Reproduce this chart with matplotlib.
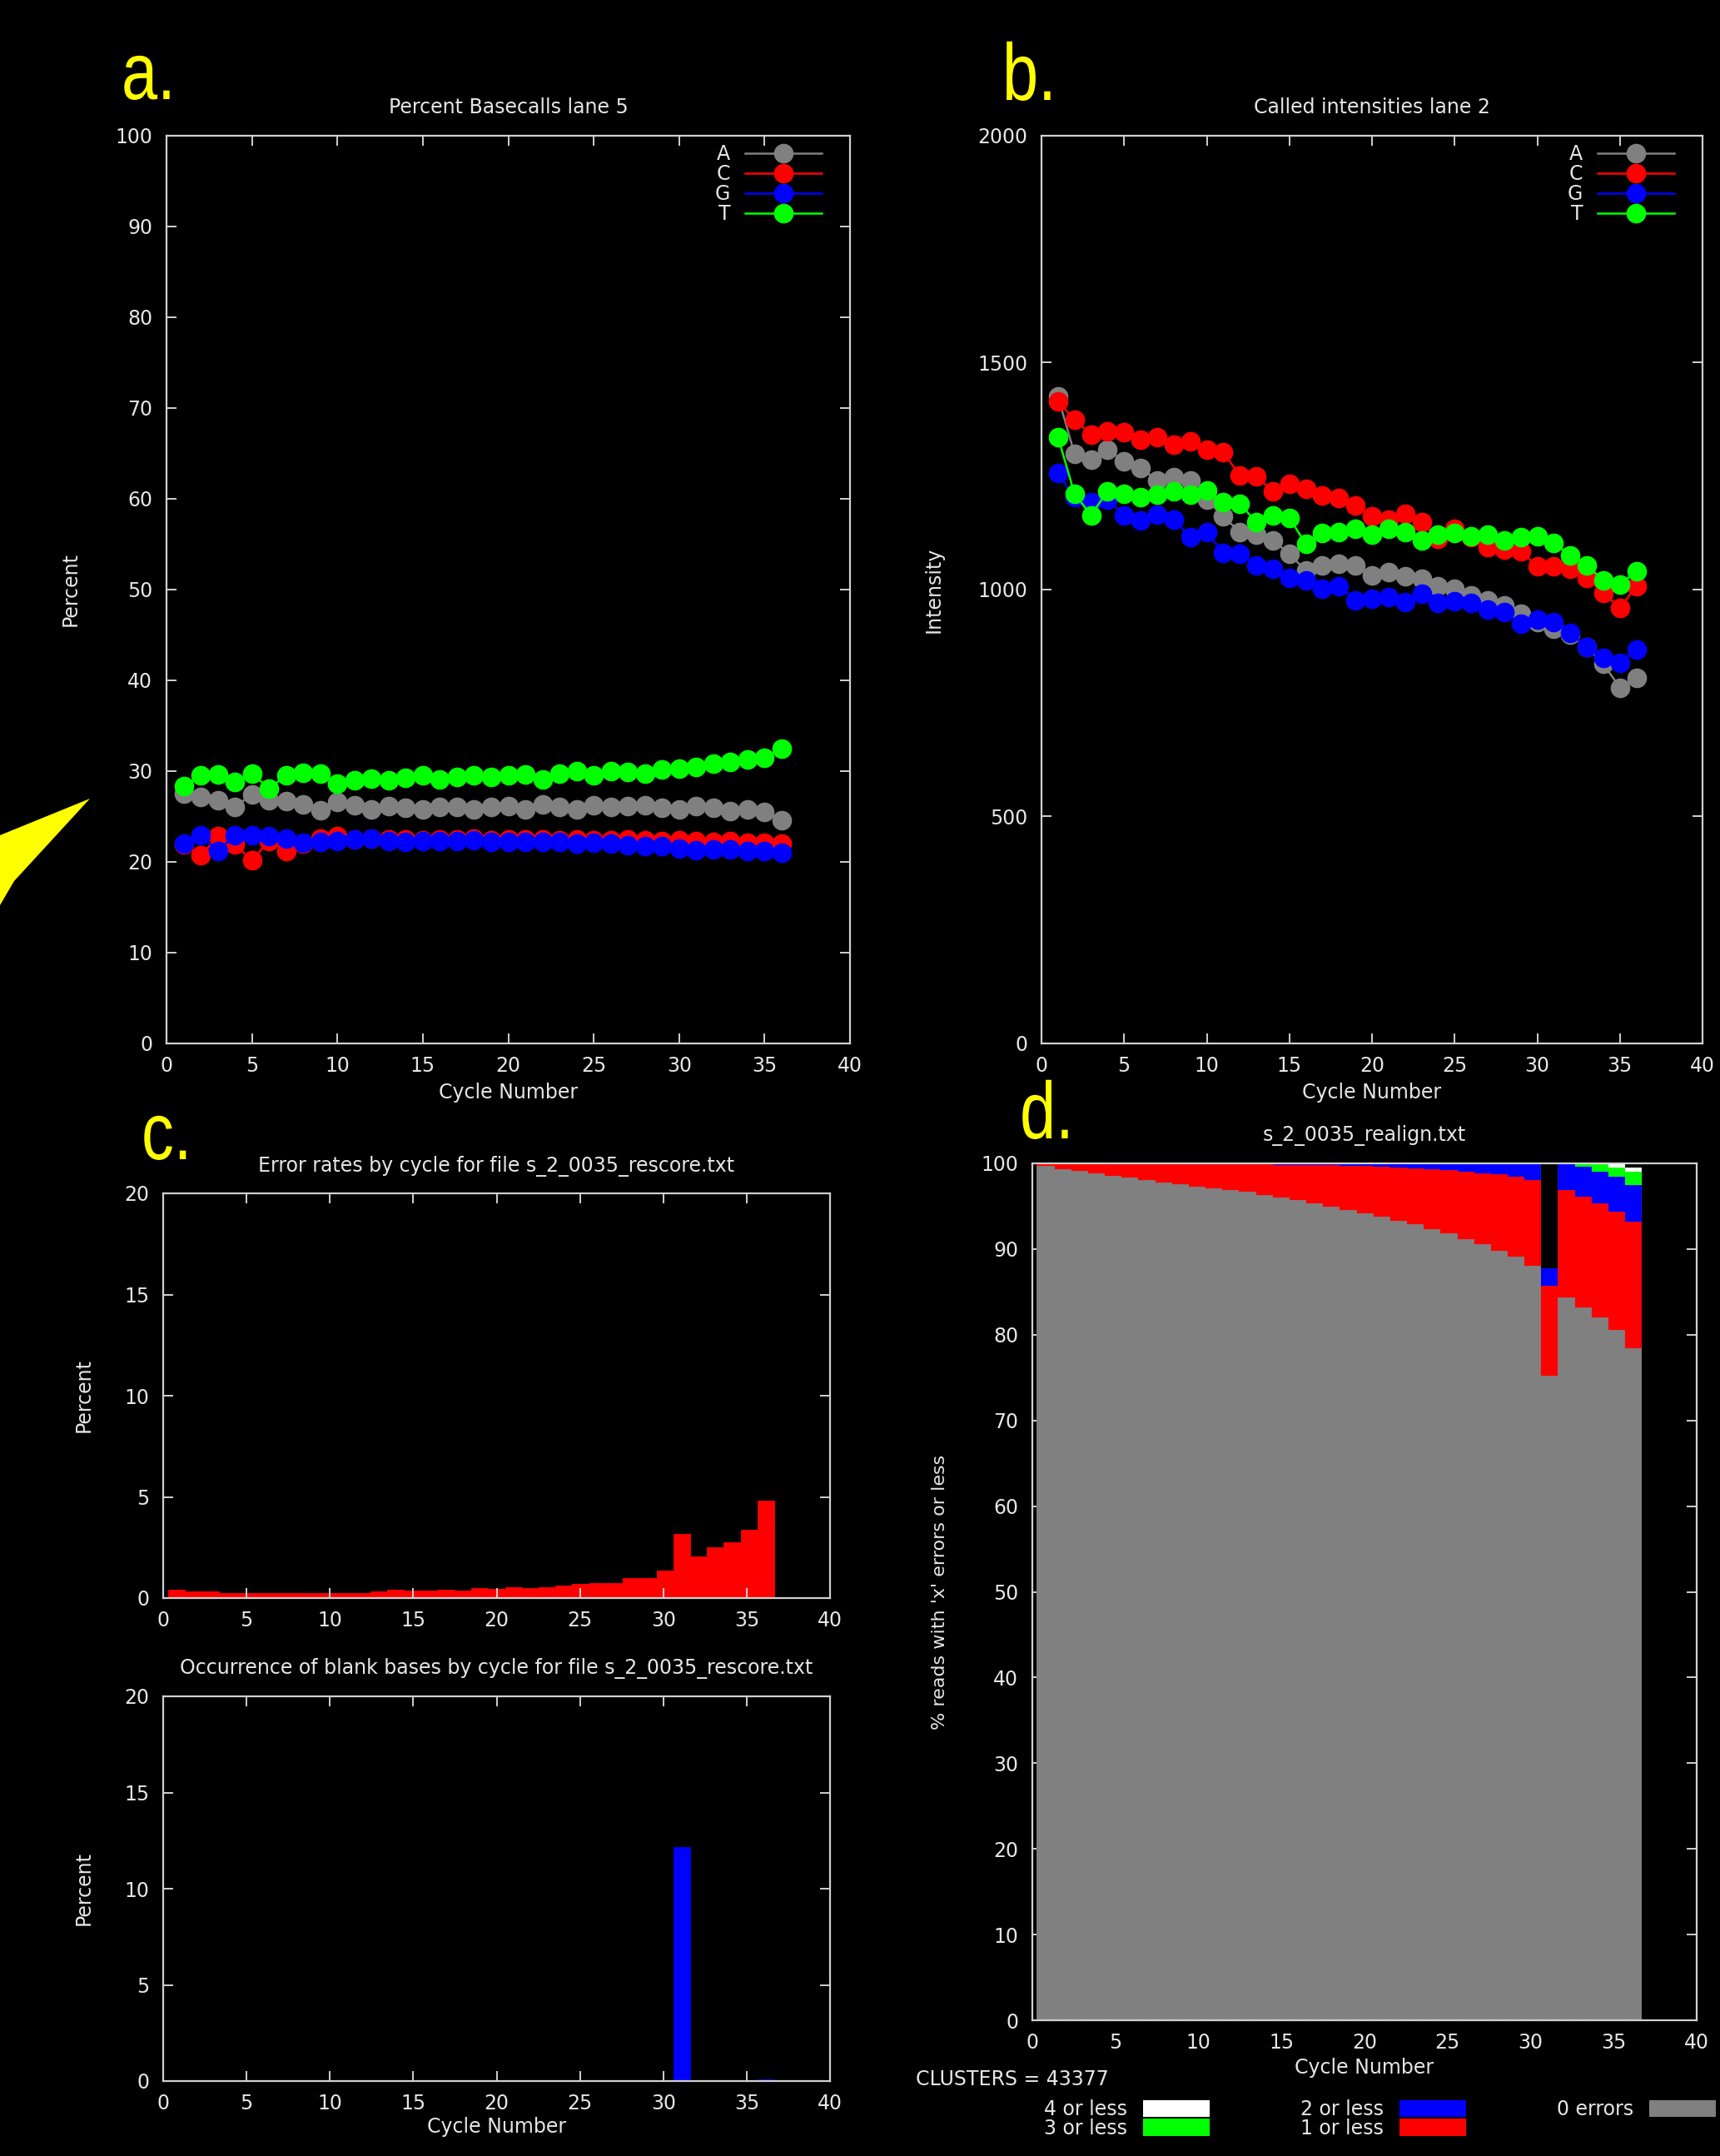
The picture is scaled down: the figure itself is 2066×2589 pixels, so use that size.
import numpy as np
import matplotlib
matplotlib.use("Agg")
import matplotlib.pyplot as plt
from matplotlib.patches import Patch, Polygon, PathPatch
from matplotlib.textpath import TextPath
from matplotlib.font_manager import FontProperties
from matplotlib.transforms import Affine2D

# ---- data ----
cycles = np.arange(1, 37)
BASES = ["A", "C", "G", "T"]
BASE_COLORS = ["#808080", "#ff0000", "#0000ff", "#00ff00"]

# a. Percent Basecalls lane 5
pct_A = [27.5, 27.2, 26.8, 26.1, 27.4, 26.8, 26.7, 26.3, 25.7, 26.6, 26.2, 25.75,
         26.15, 26.0, 25.8, 26.05, 26.05, 25.75, 26.05, 26.15, 25.8, 26.3, 26.05, 25.8,
         26.2, 26.05, 26.15, 26.25, 26.0, 25.75, 26.15, 26.0, 25.6, 25.75, 25.5, 24.6]
pct_C = [21.9, 20.7, 22.8, 21.9, 20.2, 22.3, 21.2, 22.0, 22.6, 22.8, 22.5, 22.6,
         22.5, 22.5, 22.4, 22.5, 22.5, 22.6, 22.4, 22.5, 22.5, 22.5, 22.4, 22.5,
         22.4, 22.4, 22.5, 22.4, 22.3, 22.4, 22.3, 22.2, 22.3, 22.1, 22.1, 22.0]
pct_G = [22.0, 22.9, 21.2, 22.9, 22.9, 22.8, 22.6, 22.1, 22.2, 22.3, 22.5, 22.6,
         22.3, 22.2, 22.3, 22.3, 22.3, 22.4, 22.2, 22.2, 22.2, 22.2, 22.2, 22.0,
         22.1, 22.0, 21.8, 21.7, 21.7, 21.5, 21.3, 21.4, 21.4, 21.2, 21.2, 21.0]
pct_T = [28.35, 29.5, 29.6, 28.8, 29.7, 28.1, 29.5, 29.8, 29.7, 28.65, 29.0, 29.2,
         29.0, 29.3, 29.5, 29.1, 29.4, 29.5, 29.4, 29.5, 29.6, 29.1, 29.7, 30.0,
         29.5, 30.0, 29.9, 29.7, 30.2, 30.3, 30.5, 30.8, 31.0, 31.25, 31.5, 32.5]

# b. Called intensities lane 2
int_A = [1425, 1299, 1287, 1308, 1282, 1268, 1241, 1247, 1241, 1198, 1161, 1127,
         1121, 1109, 1078, 1042, 1054, 1057, 1054, 1032, 1039, 1029, 1023, 1008,
         1002, 987, 977, 965, 947, 928, 913, 901, 873, 836, 784, 806]
int_C = [1415, 1374, 1342, 1348, 1346, 1330, 1336, 1320, 1327, 1308, 1302, 1252,
         1250, 1216, 1233, 1222, 1207, 1201, 1186, 1161, 1154, 1167, 1149, 1112,
         1134, 1115, 1094, 1088, 1085, 1051, 1051, 1045, 1026, 993, 959, 1008]
int_G = [1256, 1203, 1193, 1198, 1164, 1152, 1166, 1155, 1115, 1126, 1081, 1078,
         1054, 1045, 1026, 1020, 1001, 1008, 977, 980, 983, 972, 990, 971,
         974, 971, 956, 950, 925, 934, 928, 904, 873, 849, 839, 868]
int_T = [1336, 1211, 1164, 1217, 1211, 1204, 1210, 1216, 1210, 1219, 1192, 1189,
         1149, 1164, 1158, 1100, 1124, 1127, 1134, 1121, 1134, 1127, 1109, 1121,
         1124, 1118, 1121, 1109, 1115, 1118, 1103, 1075, 1054, 1020, 1011, 1040]

# c. error rates and blank bases (percent)
err_rate = [0.41, 0.32, 0.32, 0.25, 0.25, 0.25, 0.25, 0.25, 0.25, 0.25, 0.25, 0.25,
            0.32, 0.41, 0.38, 0.38, 0.41, 0.38, 0.48, 0.45, 0.55, 0.48, 0.55, 0.63,
            0.68, 0.75, 0.75, 0.97, 0.97, 1.37, 3.15, 2.07, 2.53, 2.74, 3.36, 4.81]
blank_rate = [0, 0, 0, 0, 0, 0, 0, 0, 0, 0, 0, 0,
              0, 0, 0, 0, 0, 0, 0, 0.03, 0.03, 0.03, 0.03, 0.03,
              0.03, 0.03, 0.03, 0.03, 0.03, 0.03, 12.15, 0.03, 0, 0, 0, 0.1]

# d. % reads with 'x' errors or less (cumulative)
le0 = [99.67, 99.35, 99.1, 98.8, 98.5, 98.3, 98.05, 97.8, 97.55, 97.3, 97.1, 96.9,
       96.65, 96.3, 96.0, 95.7, 95.35, 94.95, 94.55, 94.15, 93.75, 93.3, 92.9, 92.35,
       91.8, 91.2, 90.6, 89.8, 89.1, 88.05, 75.2, 84.4, 83.2, 82.0, 80.6, 78.4]
le1 = [99.97, 99.97, 99.96, 99.96, 99.95, 99.95, 99.94, 99.93, 99.92, 99.91, 99.9, 99.89,
       99.88, 99.86, 99.85, 99.82, 99.8, 99.76, 99.72, 99.67, 99.62, 99.52, 99.42, 99.32,
       99.2, 99.02, 98.86, 98.7, 98.4, 98.05, 85.7, 96.9, 96.15, 95.35, 94.4, 93.2]
le2 = [99.99, 99.99, 99.99, 99.99, 99.99, 99.99, 99.99, 99.99, 99.99, 99.99, 99.99, 99.99,
       99.99, 99.99, 99.99, 99.99, 99.99, 99.99, 99.98, 99.98, 99.98, 99.98, 99.98, 99.98,
       99.98, 99.97, 99.97, 99.97, 99.97, 99.97, 87.8, 99.97, 99.64, 99.0, 98.4, 97.5]
le3 = [99.99, 99.99, 99.99, 99.99, 99.99, 99.99, 99.99, 99.99, 99.99, 99.99, 99.99, 99.99,
       99.99, 99.99, 99.99, 99.99, 99.99, 99.99, 99.98, 99.98, 99.98, 99.98, 99.98, 99.98,
       99.98, 99.97, 99.97, 99.97, 99.97, 99.97, 87.8, 99.98, 99.97, 99.9, 99.54, 99.0]
le4 = [99.99, 99.99, 99.99, 99.99, 99.99, 99.99, 99.99, 99.99, 99.99, 99.99, 99.99, 99.99,
       99.99, 99.99, 99.99, 99.99, 99.99, 99.99, 99.98, 99.98, 99.98, 99.98, 99.98, 99.98,
       99.98, 99.97, 99.97, 99.97, 99.97, 99.97, 87.8, 99.99, 99.98, 99.99, 99.97, 99.54]
D_LABELS = ["4 or less", "3 or less", "2 or less", "1 or less", "0 errors"]
D_COLORS = ["#ffffff", "#00ff00", "#0000ff", "#ff0000", "#808080"]
N_CLUSTERS = 43377

# ---- layout ----
W, H = 2066.0, 2589.0
FG = "#e6e6e6"
SP = "#d0d0d0"
FS = 17
plt.rcParams["font.family"] = ["DejaVu Sans"]

fig = plt.figure(figsize=(W / 100, H / 100), dpi=100, facecolor="black")


def box(l, t, r, b):
    return [l / W, 1 - b / H, (r - l) / W, (b - t) / H]


def style(ax, ymax, ystep):
    ax.set_facecolor("black")
    ax.set_xlim(0, 40)
    ax.set_ylim(0, ymax)
    ax.set_xticks(range(0, 41, 5))
    ax.set_yticks(np.arange(0, ymax + 1, ystep))
    for s in ax.spines.values():
        s.set_color(SP)
        s.set_linewidth(1.6)
    ax.tick_params(direction="in", length=8.5, width=1.4, color=SP, labelcolor=FG,
                   labelsize=FS, top=True, right=True)
    ax.tick_params(axis="x", pad=11)
    ax.tick_params(axis="y", pad=12)


def title(ax, text, y):
    ax.set_title(text, color=FG, fontsize=FS, y=y, pad=0)


ax_a = fig.add_axes(box(200, 163, 1021, 1253))
ax_b = fig.add_axes(box(1251, 163, 2045, 1253))
ax_c1 = fig.add_axes(box(196, 1433, 997, 1919))
ax_c2 = fig.add_axes(box(196, 2037, 997, 2499))
ax_d = fig.add_axes(box(1240, 1397, 2038, 2426))

# a / b: line + point charts
for ax, series, ymax, ystep, ttl, ylab, ylx in [
        (ax_a, [pct_A, pct_C, pct_G, pct_T], 100, 10, "Percent Basecalls lane 5", "Percent", -0.126),
        (ax_b, [int_A, int_C, int_G, int_T], 2000, 500, "Called intensities lane 2", "Intensity", -0.148)]:
    style(ax, ymax, ystep)
    for vals, col, lab in zip(series, BASE_COLORS, BASES):
        ax.plot(cycles, vals, color=col, lw=1.8, marker="o", ms=16, mec=col, label=lab)
    title(ax, ttl, 1.0252)
    ax.set_xlabel("Cycle Number", color=FG, fontsize=FS)
    ax.xaxis.set_label_coords(0.5, -0.0427)
    ax.set_ylabel(ylab, color=FG, fontsize=FS)
    ax.yaxis.set_label_coords(ylx, 0.5)
    w = ax.get_position().width * W
    ax.legend(loc="upper right", bbox_to_anchor=(1 - 34 / w, 1 - 10 / 1090), frameon=False,
              markerfirst=False, numpoints=1, handlelength=3.9, handletextpad=0.75,
              labelspacing=0.0, borderpad=0, borderaxespad=0, fontsize=FS, labelcolor=FG)

# c: error rates and blank bases as boxes
pos_c = 0.3 + 1.01 * (cycles - 0.5)
style(ax_c1, 20, 5)
ax_c1.bar(pos_c, err_rate, width=1.01, color="#ff0000", edgecolor="#ff0000", linewidth=0.6)
title(ax_c1, "Error rates by cycle for file s_2_0035_rescore.txt", 1.0525)
ax_c1.set_ylabel("Percent", color=FG, fontsize=FS)
ax_c1.yaxis.set_label_coords(-0.104, 0.5)

style(ax_c2, 20, 5)
ax_c2.bar(pos_c, blank_rate, width=1.01, color="#0000ff", edgecolor="#0000ff", linewidth=0.6)
title(ax_c2, "Occurrence of blank bases by cycle for file s_2_0035_rescore.txt", 1.0574)
ax_c2.set_ylabel("Percent", color=FG, fontsize=FS)
ax_c2.yaxis.set_label_coords(-0.104, 0.5)
ax_c2.set_xlabel("Cycle Number", color=FG, fontsize=FS)
ax_c2.xaxis.set_label_coords(0.5, -0.094)

# d: overlaid cumulative bars
pos_d = 0.27 + 1.011 * (cycles - 0.5)
style(ax_d, 100, 10)
ax_d.set_axisbelow(True)
for vals, col in zip([le4, le3, le2, le1, le0], D_COLORS):
    ax_d.bar(pos_d, vals, width=1.011, color=col, edgecolor=col, linewidth=0.6)
title(ax_d, "s_2_0035_realign.txt", 1.0258)
ax_d.set_xlabel("Cycle Number", color=FG, fontsize=FS)
ax_d.xaxis.set_label_coords(0.5, -0.0442)
ax_d.set_ylabel("% reads with 'x' errors or less", color=FG, fontsize=16)
ax_d.yaxis.set_label_coords(-0.127, 0.5)

fig.text(1100 / W, 1 - 2497 / H, f"CLUSTERS = {N_CLUSTERS}", color=FG, fontsize=FS,
         ha="left", va="center")
fig.legend(handles=[Patch(facecolor=c, edgecolor="none") for c in D_COLORS], labels=D_LABELS,
           ncol=3, loc="upper left", bbox_to_anchor=(1254 / W, 1 - 2521 / H), frameon=False,
           markerfirst=False, handlelength=3.4, handleheight=0.96, handletextpad=0.8,
           columnspacing=4.6, labelspacing=-0.05, borderpad=0, borderaxespad=0,
           fontsize=FS, labelcolor=FG)

# panel letters: narrow, tall yellow glyphs (outline of Liberation Sans squeezed sideways)
letter_prop = FontProperties(family="Liberation Sans")
to_fig = Affine2D().scale(1 / W, 1 / H) + fig.transFigure
for txt, x, y in [("a.", 146, 119), ("b.", 1204, 120), ("c.", 170, 1392), ("d.", 1225, 1367)]:
    tp = TextPath((0, 0), txt, size=97, prop=letter_prop)
    path = (Affine2D().scale(0.8, 1.0).translate(x, H - y)).transform_path(tp)
    fig.patches.append(PathPatch(path, facecolor="#ffff00", edgecolor="none", transform=to_fig))

# yellow pointer at the left edge
arrow_px = [(0, 1003), (108, 959), (17, 1058), (0, 1087)]
fig.patches.append(Polygon([(x / W, 1 - y / H) for x, y in arrow_px], closed=True,
                           facecolor="#ffff00", edgecolor="none", transform=fig.transFigure))

fig.savefig("out.png", dpi=100, facecolor="black")
